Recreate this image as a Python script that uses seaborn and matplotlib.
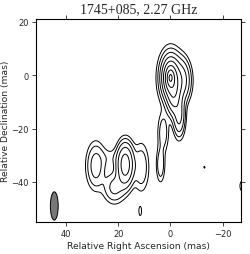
import matplotlib
matplotlib.use("Agg")
import matplotlib.pyplot as plt
from matplotlib.patches import Ellipse
import seaborn as sns
import numpy as np

# brightness components (RA offset, Dec offset in mas)
# shape index: 1 = exponential (cuspy core), 2 = gaussian
comp_ra = [0.0, -4.2, -1.2, -3.3, 2.8, 3.8, 11.2, 17.3, 21.5, 28.6, 23.0, 11.6, -13.0, -27.6]
comp_dec = [-1.0, -2.0, -6.0, -15.0, -21.5, -33.5, -34.5, -33.5, -42.0, -34.0, -31.0, -51.0, -34.5, -41.5]
comp_peak = [1.2, 0.07, 0.15, 0.06, 0.02, 0.022, 0.022, 0.14, 0.03, 0.035, 0.008, 0.0075, 0.0064, 0.011]
comp_sx = [1.05, 2.0, 1.4, 1.3, 1.3, 1.0, 1.8, 1.8, 2.5, 2.1, 3.0, 0.7, 0.6, 0.9]
comp_sy = [2.4, 4.5, 4.5, 4.5, 4.5, 4.0, 5.5, 4.4, 3.5, 5.0, 2.5, 2.3, 1.0, 1.8]
comp_index = [1, 2, 2, 2, 2, 2, 2, 2, 2, 2, 2, 2, 2, 2]

# contour levels: doubling from the lowest
base_level = 0.006
n_levels = 8

# restoring beam (mas)
beam_ra, beam_dec = 44.5, -49.0
beam_w, beam_h = 3.0, 10.6

sns.set_theme(style="ticks")
plt.rcParams["font.family"] = ["DejaVu Sans"]

ra = np.arange(-32, 56, 0.2)
dec = np.arange(-60, 26, 0.2)
RA, DEC = np.meshgrid(ra, dec)
img = np.zeros_like(RA)
for x0, y0, a, sx, sy, n in zip(comp_ra, comp_dec, comp_peak, comp_sx, comp_sy, comp_index):
    r = np.sqrt(((RA - x0) / sx) ** 2 + ((DEC - y0) / sy) ** 2)
    img += a * np.exp(-r ** n / n)

levels = base_level * 2.0 ** np.arange(n_levels)

fig = plt.figure(figsize=(2.5, 2.55), dpi=100)
ax = fig.add_axes([0.144, 0.1255, 0.82, 0.798])
ax.contour(RA, DEC, img, levels=levels, colors="black", linewidths=0.7)
ax.add_patch(Ellipse((beam_ra, beam_dec), beam_w, beam_h,
                     facecolor="#777777", edgecolor="black", linewidth=0.7))

ax.set_xlim(51.5, -27)
ax.set_ylim(-55, 21.2)
ax.set_xticks([40, 20, 0, -20])
ax.set_yticks([20, 0, -20, -40])
ax.tick_params(axis="both", which="both", direction="out", length=3, width=0.6,
               labelsize=6, top=True, right=True, pad=2)
for s in ax.spines.values():
    s.set_linewidth(0.8)
    s.set_color("black")

ax.set_xlabel("Relative Right Ascension (mas)", fontsize=6.6, labelpad=2)
ax.set_ylabel("Relative Declination (mas)", fontsize=6.6, labelpad=1)
ax.set_title("1745+085, 2.27 GHz", fontsize=10, family="Liberation Serif", pad=4.5)

fig.savefig("out.png", dpi=100)
